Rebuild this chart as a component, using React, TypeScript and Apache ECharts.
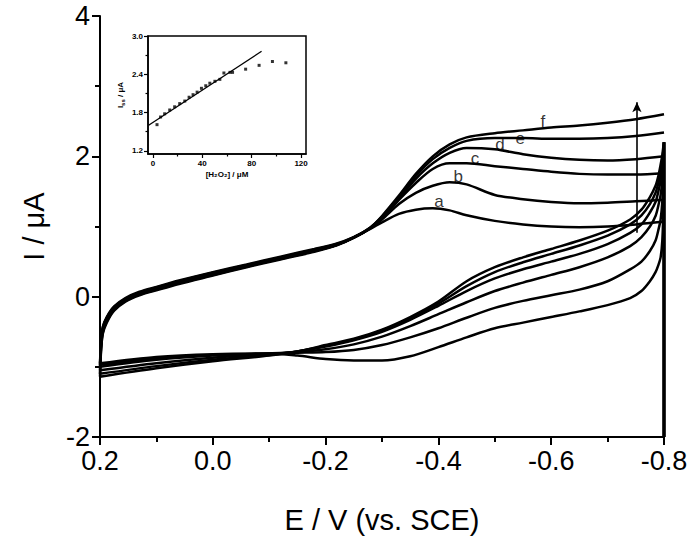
import React, { useEffect, useRef } from "react";
import * as echarts from "echarts";

// Forward scan potentials (V vs SCE)
const E_UP = [0.2, 0.198, 0.195, 0.188, 0.175, 0.155, 0.13, 0.1, 0.06, 0.0, -0.06, -0.12, -0.18, -0.22, -0.25, -0.28, -0.3, -0.33, -0.36, -0.39, -0.42, -0.45, -0.5, -0.55, -0.6, -0.65, -0.7, -0.75, -0.8];
const A_UP = [-0.95, -0.62, -0.43, -0.29, -0.14, -0.02, 0.07, 0.14, 0.23, 0.35, 0.46, 0.57, 0.68, 0.76, 0.85, 0.97, 1.06, 1.18, 1.24, 1.26, 1.23, 1.16, 1.08, 1.03, 1.0, 0.99, 1.0, 1.03, 1.07];
const B_UP = [-0.97, -0.64, -0.44, -0.3, -0.15, -0.03, 0.06, 0.13, 0.22, 0.34, 0.45, 0.56, 0.67, 0.75, 0.85, 0.98, 1.1, 1.32, 1.48, 1.58, 1.63, 1.6, 1.45, 1.39, 1.35, 1.33, 1.34, 1.36, 1.38];
const C_UP = [-1.0, -0.66, -0.46, -0.31, -0.16, -0.04, 0.05, 0.12, 0.21, 0.33, 0.44, 0.55, 0.66, 0.74, 0.84, 0.98, 1.12, 1.38, 1.62, 1.82, 1.9, 1.9, 1.86, 1.82, 1.78, 1.75, 1.74, 1.74, 1.76];
const D_UP = [-1.05, -0.7, -0.49, -0.33, -0.18, -0.05, 0.04, 0.11, 0.2, 0.32, 0.43, 0.54, 0.65, 0.74, 0.84, 0.98, 1.13, 1.4, 1.68, 1.9, 2.05, 2.12, 2.1, 2.03, 1.98, 1.95, 1.94, 1.96, 2.0];
const E_UPI = [-1.1, -0.73, -0.51, -0.35, -0.19, -0.06, 0.03, 0.1, 0.19, 0.31, 0.43, 0.54, 0.65, 0.74, 0.84, 0.99, 1.14, 1.42, 1.72, 1.96, 2.12, 2.22, 2.26, 2.26, 2.25, 2.25, 2.26, 2.29, 2.34];
const F_UP = [-1.14, -0.76, -0.53, -0.37, -0.2, -0.07, 0.02, 0.09, 0.18, 0.3, 0.42, 0.53, 0.64, 0.73, 0.84, 0.99, 1.15, 1.44, 1.75, 2.0, 2.17, 2.27, 2.33, 2.37, 2.41, 2.44, 2.48, 2.53, 2.6];

// Reverse scan potentials
const E_DN = [-0.8, -0.8, -0.799, -0.797, -0.794, -0.79, -0.785, -0.775, -0.76, -0.74, -0.7, -0.65, -0.6, -0.55, -0.5, -0.45, -0.4, -0.35, -0.3, -0.25, -0.2, -0.15, -0.1, 0.0, 0.1, 0.2];
const A_DN = [-2.0, 2.2, 1.3, 0.8, 0.56, 0.45, 0.35, 0.22, 0.08, -0.02, -0.12, -0.21, -0.29, -0.37, -0.45, -0.58, -0.72, -0.85, -0.91, -0.91, -0.89, -0.84, -0.81, -0.82, -0.86, -0.95];
const B_DN = [-2.0, 2.2, 1.7, 1.35, 1.1, 0.95, 0.8, 0.65, 0.5, 0.39, 0.22, 0.1, 0.02, -0.06, -0.16, -0.3, -0.45, -0.58, -0.69, -0.76, -0.79, -0.8, -0.81, -0.83, -0.88, -0.97];
const C_DN = [-2.0, 2.2, 1.9, 1.65, 1.45, 1.3, 1.15, 1.0, 0.85, 0.72, 0.56, 0.42, 0.31, 0.2, 0.08, -0.08, -0.25, -0.42, -0.57, -0.68, -0.75, -0.79, -0.81, -0.84, -0.9, -1.0];
const D_DN = [-2.0, 2.2, 2.02, 1.85, 1.65, 1.5, 1.35, 1.2, 1.03, 0.91, 0.75, 0.61, 0.5, 0.39, 0.26, 0.08, -0.13, -0.33, -0.5, -0.62, -0.71, -0.78, -0.82, -0.87, -0.95, -1.05];
const E_DNI = [-2.0, 2.2, 2.1, 1.95, 1.78, 1.62, 1.48, 1.32, 1.16, 1.03, 0.87, 0.73, 0.61, 0.49, 0.35, 0.15, -0.1, -0.31, -0.48, -0.61, -0.7, -0.78, -0.83, -0.9, -0.99, -1.1];
const F_DN = [-2.0, 2.2, 2.15, 2.02, 1.88, 1.72, 1.58, 1.42, 1.24, 1.1, 0.94, 0.8, 0.68, 0.56, 0.42, 0.22, -0.07, -0.29, -0.47, -0.6, -0.69, -0.78, -0.84, -0.92, -1.02, -1.14];

const CURVE_NAMES = ["a", "b", "c", "d", "e", "f"];
const UP = [A_UP, B_UP, C_UP, D_UP, E_UPI, F_UP];
const DN = [A_DN, B_DN, C_DN, D_DN, E_DNI, F_DN];

// curve label anchors (E, I)
const LABEL_E = [-0.401, -0.435, -0.465, -0.509, -0.545, -0.585];
const LABEL_I = [1.36, 1.71, 1.97, 2.17, 2.26, 2.5];

// arrow (E, I bottom, I top)
const ARROW_E = -0.752;
const ARROW_I = [0.91, 2.77];

// inset data
const CONC = [3.3, 6.2, 9.5, 13.6, 17.6, 21.7, 25.8, 29.3, 32.5, 35.8, 39.3, 42.8, 46.1, 50.2, 54.2, 57.5, 62.4, 64.5, 75.1, 86.0, 96.8, 107.7];
const ISS = [1.61, 1.73, 1.78, 1.84, 1.89, 1.94, 1.98, 2.04, 2.08, 2.12, 2.18, 2.22, 2.26, 2.29, 2.32, 2.42, 2.43, 2.43, 2.48, 2.54, 2.6, 2.58];
const FIT_X = [-3.5, 88];
const FIT_Y = [1.6, 2.76];
const INSET_X_MAJOR = [0, 40, 80, 120];
const INSET_X_MINOR = [20, 60, 100];
const INSET_Y_MAJOR = [1.2, 1.8, 2.4, 3.0];
const INSET_Y_MINOR = [1.5, 2.1, 2.7];

const FONT = "Liberation Sans, Arial, sans-serif";

export default function App() {
  const ref = useRef<HTMLDivElement>(null);
  useEffect(() => {
    if (!ref.current) return;
    const chart = echarts.init(ref.current, null, { renderer: "svg" });
    const cvSeries: any[] = CURVE_NAMES.map((n, k) => {
      const data: number[][] = [];
      E_DN.forEach((e, i) => data.push([e, DN[k][i]]));
      E_UP.forEach((e, i) => data.push([e, UP[k][i]]));
      return {
        name: n,
        type: "line",
        xAxisIndex: 0,
        yAxisIndex: 0,
        data,
        showSymbol: false,
        symbol: "none",
        smooth: 0.3,
        lineStyle: { color: "#000", width: 2.5 },
        clip: true,
        silent: true,
      };
    });
    cvSeries[0].markLine = {
      silent: true,
      symbol: ["none", "arrow"],
      symbolSize: [7, 10],
      label: { show: false },
      lineStyle: { color: "#000", width: 1.6, type: "solid" },
      data: [[{ coord: [ARROW_E, ARROW_I[0]] }, { coord: [ARROW_E, ARROW_I[1]] }]],
    };
    const labelSeries = {
      type: "scatter",
      xAxisIndex: 0,
      yAxisIndex: 0,
      symbolSize: 0,
      data: CURVE_NAMES.map((n, i) => ({ value: [LABEL_E[i], LABEL_I[i]], name: n })),
      label: {
        show: true,
        position: "inside",
        formatter: (p: any) => p.name,
        color: "#000",
        fontSize: 17,
        fontFamily: FONT,
      },
      silent: true,
    };
    const insetScatter = {
      type: "scatter",
      xAxisIndex: 1,
      yAxisIndex: 2,
      symbol: "rect",
      symbolSize: 3,
      itemStyle: { color: "#000" },
      data: CONC.map((c, i) => [c, ISS[i]]),
      silent: true,
    };
    const insetFit = {
      type: "line",
      xAxisIndex: 1,
      yAxisIndex: 2,
      symbol: "none",
      lineStyle: { color: "#000", width: 1.3 },
      data: FIT_X.map((x, i) => [x, FIT_Y[i]]),
      silent: true,
    };
    const insetLabel = { color: "#000", fontSize: 8, fontWeight: "bold", fontFamily: FONT };
    chart.setOption({
      animation: false,
      backgroundColor: "#fff",
      grid: [
        { left: 100, right: 28, top: 16, bottom: 109 },
        { left: 148, top: 36, width: 158, height: 118, show: true, borderColor: "#000", borderWidth: 1.5, backgroundColor: "transparent" },
      ],
      xAxis: [
        {
          type: "value",
          gridIndex: 0,
          min: -0.8,
          max: 0.2,
          interval: 0.2,
          inverse: true,
          splitLine: { show: false },
          axisLine: { onZero: false, lineStyle: { color: "#000", width: 2 } },
          axisTick: { length: 8, lineStyle: { color: "#000", width: 2 } },
          minorTick: { show: true, splitNumber: 2, length: 5, lineStyle: { color: "#000", width: 2 } },
          axisLabel: { color: "#000", fontSize: 27, fontFamily: FONT, margin: 10, formatter: (v: number) => v.toFixed(1) },
          name: "E / V (vs. SCE)",
          nameLocation: "middle",
          nameGap: 68,
          nameTextStyle: { color: "#000", fontSize: 29, fontFamily: FONT },
        },
        {
          type: "value",
          gridIndex: 1,
          position: "bottom",
          min: -4,
          max: 124,
          splitLine: { show: false },
          axisLine: { onZero: false, lineStyle: { color: "#000", width: 1.5 } },
          axisTick: { length: 4, customValues: INSET_X_MAJOR, lineStyle: { color: "#000", width: 1.2 } },
          axisLabel: { ...insetLabel, margin: 5, customValues: INSET_X_MAJOR },
          name: "[H₂O₂] / μM",
          nameLocation: "middle",
          nameGap: 16,
          nameTextStyle: { ...insetLabel },
        },
        {
          type: "value",
          gridIndex: 1,
          position: "bottom",
          min: -4,
          max: 124,
          splitLine: { show: false },
          axisLine: { show: false, onZero: false },
          axisTick: { length: 2.5, customValues: INSET_X_MINOR, lineStyle: { color: "#000", width: 1.2 } },
          axisLabel: { show: false, customValues: INSET_X_MINOR },
        },
      ],
      yAxis: [
        {
          type: "value",
          gridIndex: 0,
          min: -2,
          max: 4,
          interval: 2,
          splitLine: { show: false },
          axisLine: { show: true, onZero: false, lineStyle: { color: "#000", width: 2 } },
          axisTick: { show: true, length: 8, lineStyle: { color: "#000", width: 2 } },
          minorTick: { show: true, splitNumber: 2, length: 5, lineStyle: { color: "#000", width: 2 } },
          axisLabel: { color: "#000", fontSize: 27, fontFamily: FONT, margin: 10 },
          name: "I / μA",
          nameLocation: "middle",
          nameGap: 52,
          nameTextStyle: { color: "#000", fontSize: 29, fontFamily: FONT },
        },
        {
          type: "value",
          gridIndex: 0,
          position: "right",
          min: -2,
          max: 4,
          splitLine: { show: false },
          axisLine: { show: false, onZero: false },
          axisTick: { show: false },
          axisLabel: { show: false },
        },
        {
          type: "value",
          gridIndex: 1,
          position: "left",
          min: 1.15,
          max: 3.0,
          splitLine: { show: false },
          axisLine: { show: true, onZero: false, lineStyle: { color: "#000", width: 1.5 } },
          axisTick: { show: true, length: 4, customValues: INSET_Y_MAJOR, lineStyle: { color: "#000", width: 1.2 } },
          axisLabel: { ...insetLabel, margin: 5, customValues: INSET_Y_MAJOR, formatter: (v: number) => v.toFixed(1) },
          name: "{i|I}{s|ss}{i| / μA}",
          nameLocation: "middle",
          nameGap: 22,
          nameTextStyle: {
            rich: {
              i: { ...insetLabel },
              s: { ...insetLabel, fontSize: 6, padding: [6, 0, 0, 0] },
            },
          },
        },
        {
          type: "value",
          gridIndex: 1,
          position: "left",
          min: 1.15,
          max: 3.0,
          splitLine: { show: false },
          axisLine: { show: false, onZero: false },
          axisTick: { show: true, length: 2.5, customValues: INSET_Y_MINOR, lineStyle: { color: "#000", width: 1.2 } },
          axisLabel: { show: false, customValues: INSET_Y_MINOR },
        },
      ],
      series: [...cvSeries, labelSeries, insetFit, insetScatter],
    });
    return () => chart.dispose();
  }, []);
  return <div ref={ref} style={{ width: 692, height: 546, position: "absolute", left: 0, top: 0 }} />;
}
